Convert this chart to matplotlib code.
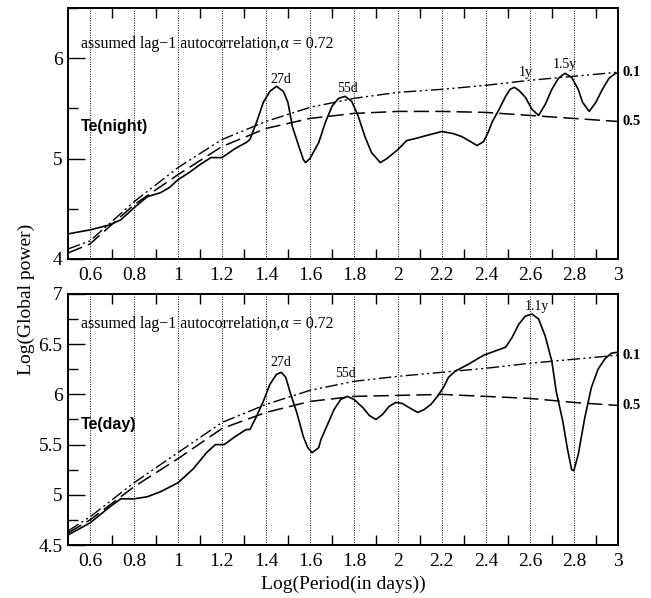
"""
Global wavelet power of Te (night / day) with red-noise significance levels.
Two stacked panels, shared log-period axis.
"""

import numpy as np
import matplotlib
matplotlib.use("Agg")
import matplotlib.pyplot as plt
from matplotlib.ticker import MultipleLocator, FuncFormatter

SERIF = ["Liberation Serif", "DejaVu Serif"]
SANS = ["Liberation Sans", "DejaVu Sans"]

# ---- Te(night): global power (solid) ----
night_x = [0.50, 0.60, 0.69, 0.74, 0.80, 0.86, 0.92, 0.96, 1.00, 1.05, 1.10, 1.15,
           1.20, 1.26, 1.31, 1.327, 1.357, 1.388, 1.418, 1.448, 1.479, 1.50, 1.52,
           1.55, 1.57, 1.58, 1.60, 1.64, 1.67, 1.70, 1.73, 1.76, 1.79, 1.82, 1.85,
           1.88, 1.92, 1.95, 2.00, 2.04, 2.08, 2.13, 2.20, 2.25, 2.29, 2.33, 2.36,
           2.39, 2.41, 2.43, 2.46, 2.49, 2.51, 2.53, 2.55, 2.58, 2.61, 2.64, 2.67,
           2.70, 2.73, 2.76, 2.79, 2.82, 2.84, 2.87, 2.90, 2.93, 2.96, 2.99, 3.00]
night_y = [4.25, 4.29, 4.34, 4.39, 4.51, 4.62, 4.66, 4.71, 4.79, 4.86, 4.94, 5.01,
           5.01, 5.10, 5.16, 5.19, 5.36, 5.56, 5.67, 5.72, 5.67, 5.56, 5.32,
           5.12, 4.99, 4.96, 5.00, 5.16, 5.36, 5.52, 5.60, 5.62, 5.57, 5.42, 5.22,
           5.06, 4.96, 5.00, 5.09, 5.18, 5.20, 5.23, 5.27, 5.25, 5.22, 5.17, 5.13,
           5.17, 5.26, 5.37, 5.49, 5.62, 5.69, 5.71, 5.68, 5.61, 5.49, 5.43, 5.54,
           5.69, 5.80, 5.85, 5.81, 5.69, 5.56, 5.47, 5.56, 5.69, 5.80, 5.85, 5.85]

# significance levels (night)
sig_x = [0.50, 0.60, 0.80, 1.00, 1.20, 1.40, 1.60, 1.80, 2.00, 2.20, 2.40, 2.60, 2.80, 3.00]
night_sig10 = [4.10, 4.18, 4.57, 4.91, 5.19, 5.37, 5.51, 5.60, 5.66, 5.69, 5.73, 5.78, 5.82, 5.86]
night_sig50 = [4.06, 4.15, 4.54, 4.84, 5.12, 5.30, 5.40, 5.45, 5.47, 5.47, 5.46, 5.43, 5.40, 5.37]

# ---- Te(day): global power (solid) ----
day_x = [0.50, 0.60, 0.69, 0.74, 0.80, 0.86, 0.92, 1.00, 1.07, 1.13, 1.17, 1.21,
         1.26, 1.31, 1.327, 1.357, 1.388, 1.418, 1.448, 1.47, 1.49, 1.51, 1.54,
         1.57, 1.59, 1.61, 1.64, 1.65, 1.68, 1.71, 1.74, 1.77, 1.80, 1.84, 1.87,
         1.90, 1.93, 1.96, 1.99, 2.02, 2.05, 2.09, 2.12, 2.15, 2.18, 2.21, 2.23,
         2.26, 2.32, 2.39, 2.44, 2.49, 2.52, 2.55, 2.58, 2.61, 2.64, 2.67, 2.70,
         2.72, 2.75, 2.77, 2.79, 2.80, 2.82, 2.85, 2.88, 2.91, 2.94, 2.97, 3.00]
day_y = [4.60, 4.72, 4.88, 4.96, 4.96, 4.98, 5.03, 5.12, 5.26, 5.42, 5.50, 5.50,
         5.58, 5.65, 5.65, 5.78, 5.93, 6.10, 6.20, 6.22, 6.17, 6.02, 5.82,
         5.58, 5.47, 5.42, 5.47, 5.55, 5.70, 5.85, 5.95, 5.98, 5.95, 5.87, 5.79,
         5.75, 5.80, 5.88, 5.92, 5.91, 5.87, 5.82, 5.85, 5.90, 5.98, 6.08, 6.17,
         6.23, 6.30, 6.39, 6.43, 6.47, 6.57, 6.70, 6.78, 6.80, 6.75, 6.58, 6.33,
         6.03, 5.73, 5.47, 5.25, 5.24, 5.40, 5.77, 6.07, 6.25, 6.35, 6.41, 6.42]

day_sig10 = [4.64, 4.78, 5.12, 5.42, 5.72, 5.90, 6.04, 6.13, 6.18, 6.22, 6.26, 6.31, 6.35, 6.39]
day_sig50 = [4.62, 4.75, 5.08, 5.36, 5.66, 5.82, 5.93, 5.98, 5.99, 6.00, 5.98, 5.96, 5.92, 5.89]

# peak annotations: (label, x, y)
night_peaks = [("27d", 1.467, 5.79), ("55d", 1.77, 5.70), ("1y", 2.58, 5.86), ("1.5y", 2.76, 5.94)]
day_peaks = [("27d", 1.467, 6.32), ("55d", 1.76, 6.21), ("1.1y", 2.63, 6.88)]

DASH_DOT_DOT = (0, (9, 2.5, 1.5, 2.5, 1.5, 2.5))
DASHED = (0, (10, 4))
fmt_g = FuncFormatter(lambda v, pos: f"{v:g}")


def style_axis(ax, ylim, ymajor, yminor):
    ax.set_xlim(0.5, 3.0)
    ax.set_ylim(*ylim)
    major = np.round(np.arange(0.6, 3.01, 0.2), 1)
    ax.set_xticks(major)
    ax.set_xticklabels([f"{v:g}" for v in major])
    ax.set_xticks(np.round(np.arange(0.7, 2.95, 0.2), 1), minor=True)
    ax.yaxis.set_major_locator(MultipleLocator(ymajor))
    ax.yaxis.set_minor_locator(MultipleLocator(yminor))
    ax.yaxis.set_major_formatter(fmt_g)
    ax.tick_params(axis="x", which="major", length=0, pad=6, labelsize=14)
    ax.tick_params(axis="x", which="minor", direction="in", length=7, width=1,
                   top=True, bottom=True)
    ax.tick_params(axis="y", which="major", direction="in", length=12, width=1,
                   right=False, labelsize=14, pad=4)
    ax.tick_params(axis="y", which="minor", direction="in", length=7, width=1, right=False)
    for lab in ax.get_xticklabels() + ax.get_yticklabels():
        lab.set_family(SERIF)
    ax.grid(axis="x", which="major", linestyle=(0, (1, 1.5)), color="black", linewidth=0.7)
    for s in ax.spines.values():
        s.set_linewidth(1.4)


def panel(ax, px, py, sx, s10, s50, peaks, name, ylim, ymajor, yminor, txt_y, name_y):
    ax.plot(px, py, color="black", linewidth=1.2)
    ax.plot(sx, s10, color="black", linewidth=1.0, linestyle=DASH_DOT_DOT)
    ax.plot(sx, s50, color="black", linewidth=1.1, linestyle=DASHED)
    style_axis(ax, ylim, ymajor, yminor)

    ax.text(0.56, txt_y, "assumed lag\u22121 autocorrelation,\u03b1 = 0.72",
            family=SERIF, fontsize=11.4, va="center")
    ax.text(0.56, name_y, name, family=SANS, fontweight="bold", fontsize=11.5, va="center")
    for lab, x, y in peaks:
        ax.text(x, y, lab, family=SERIF, fontsize=10, ha="center", va="center")
    ax.text(3.02, s10[-1], "0.1", family=SERIF, fontweight="bold", fontsize=10.5,
            va="center", clip_on=False)
    ax.text(3.02, s50[-1], "0.5", family=SERIF, fontweight="bold", fontsize=10.5,
            va="center", clip_on=False)


fig = plt.figure(figsize=(6.51, 5.98), dpi=100)
fig.patch.set_facecolor("white")
ax_top = fig.add_axes([0.1045, 0.5669, 0.8445, 0.4197])
ax_bot = fig.add_axes([0.1045, 0.0886, 0.8445, 0.4198])

panel(ax_top, night_x, night_y, sig_x, night_sig10, night_sig50, night_peaks,
      "Te(night)", (4.0, 6.5), 1.0, 0.5, 6.14, 5.32)
panel(ax_bot, day_x, day_y, sig_x, day_sig10, day_sig50, day_peaks,
      "Te(day)", (4.5, 7.0), 0.5, 0.25, 6.70, 5.70)

ax_bot.set_xlabel("Log(Period(in days))", family=SERIF, fontsize=14, labelpad=4)
fig.text(0.040, 0.50, "Log(Global power)", family=SERIF, fontsize=14,
         rotation=90, ha="center", va="center")

fig.savefig("out.png", dpi=100, facecolor="white")
